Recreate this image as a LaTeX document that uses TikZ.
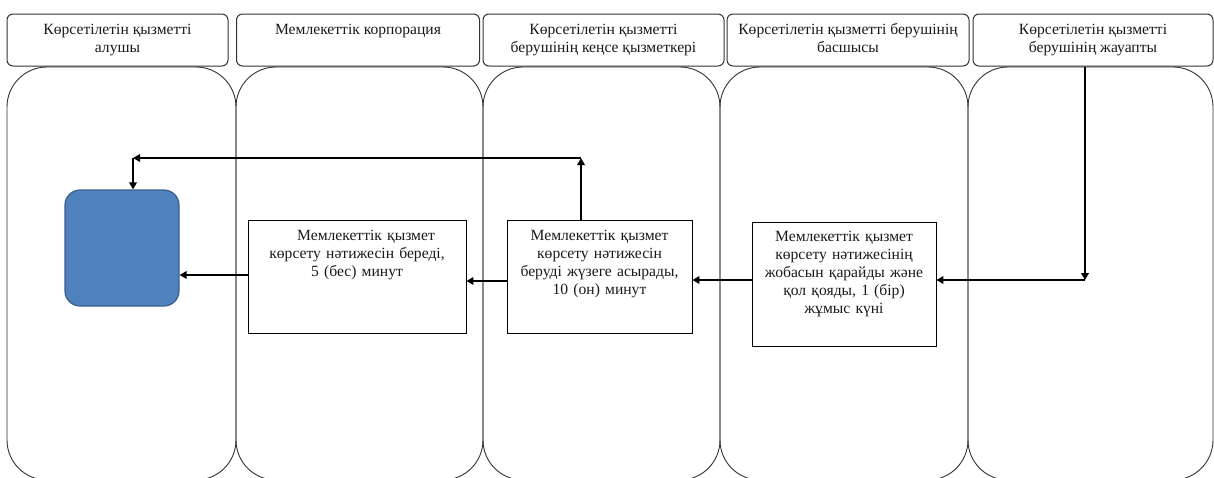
\documentclass[tikz,border=0pt]{standalone}
\usepackage{fontspec}
\setmainfont{Liberation Serif}
\usetikzlibrary{arrows.meta,calc}
\definecolor{bluefill}{HTML}{4F81BD}
\definecolor{blueline}{HTML}{3A5F8E}
\definecolor{laneline}{HTML}{333333}
\definecolor{txt}{HTML}{1A1A1A}
\begin{document}
\begin{tikzpicture}[x=1pt,y=-1pt,
  lanebody/.style={draw=laneline,line width=0.9pt,rounded corners=40pt},
  headbox/.style={draw=laneline,line width=1pt,rounded corners=6pt,minimum height=52pt,inner sep=0pt},
  headtext/.style={anchor=north,align=center,text=txt,font=\fontsize{15.6}{18}\selectfont,inner sep=0pt},
  stepbox/.style={draw=black,line width=0.8pt,inner sep=0pt},
  boxtext/.style={anchor=north,align=center,text=txt,font=\fontsize{15.6}{18}\selectfont,inner sep=0pt,text width=200pt},
  arr/.style={draw=black,line width=1.8pt,-{Triangle[length=7pt,width=7.5pt]}}]
\useasboundingbox (0,0) rectangle (1214,477);
\clip (0,0) rectangle (1214,477);
% lane bodies
\draw[lanebody] (7,67) rectangle (236,480);
\draw[lanebody] (236,67) rectangle (483,480);
\draw[lanebody] (483,67) rectangle (720,480);
\draw[lanebody] (720,67) rectangle (968,480);
\draw[lanebody] (968,67) rectangle (1213,480);
% headers
\node[headbox,minimum width=221pt] (h1) at (117.5,40) {};
\node[headbox,minimum width=243pt] (h2) at (358,40) {};
\node[headbox,minimum width=241pt] (h3) at (603.5,40) {};
\node[headbox,minimum width=242pt] (h4) at (848,40) {};
\node[headbox,minimum width=240pt] (h5) at (1093,40) {};
\node[headtext] (t1) at ($(h1.north)+(0,10)$) {Көрсетілетін қызметті\\алушы};
\node[headtext] (t2) at ($(h2.north)+(0,10)$) {Мемлекеттік корпорация};
\node[headtext] (t3) at ($(h3.north)+(0,10)$) {Көрсетілетін қызметті\\берушінің кеңсе қызметкері};
\node[headtext] (t4) at ($(h4.north)+(0,10)$) {Көрсетілетін қызметті берушінің\\басшысы};
\node[headtext] (t5) at ($(h5.north)+(0,10)$) {Көрсетілетін қызметті\\берушінің жауапты};
% blue terminal
\node[draw=blueline,fill=bluefill,line width=1.2pt,rounded corners=15pt,minimum width=114pt,minimum height=116pt] (blue) at (122,248) {};
% process boxes
\node[stepbox,minimum width=218pt,minimum height=113pt] (b2) at (357,276.5) {};
\node[stepbox,minimum width=185pt,minimum height=113pt] (b3) at (599.5,276.5) {};
\node[stepbox,minimum width=184pt,minimum height=124pt] (b4) at (844,284) {};
\node[boxtext] (bt2) at ($(b2.north)+(0,10)$) {\hspace*{18pt}Мемлекеттік қызмет\\көрсету нәтижесін береді,\\5 (бес) минут};
\node[boxtext] (bt3) at ($(b3.north)+(0,10)$) {Мемлекеттік қызмет\\көрсету нәтижесін\\беруді жүзеге асырады,\\10 (он) минут};
\node[boxtext] (bt4) at ($(b4.north)+(0,9)$) {Мемлекеттік қызмет\\көрсету нәтижесінің\\жобасын қарайды және\\қол қояды, 1 (бір)\\жұмыс күні};
% connectors
\coordinate (c5) at (1085,280);
\coordinate (up3) at (581,158);
\coordinate (lt1) at (133,158);
\draw[arr] (h5.south -| c5) -- (c5);
\draw[arr] (c5) -- (b4.east |- c5);
\draw[arr] (b4.west |- c5) -- (b3.east |- c5);
\draw[arr] (b3.west |- 0,281) -- (b2.east |- 0,281);
\draw[arr] (b2.west |- 0,275) -- (blue.east |- 0,275);
\draw[arr] (b3.north -| up3) -- (up3);
\draw[arr] (up3) -- (lt1);
\draw[arr] (lt1) -- (blue.north -| lt1);
\end{tikzpicture}
\end{document}
